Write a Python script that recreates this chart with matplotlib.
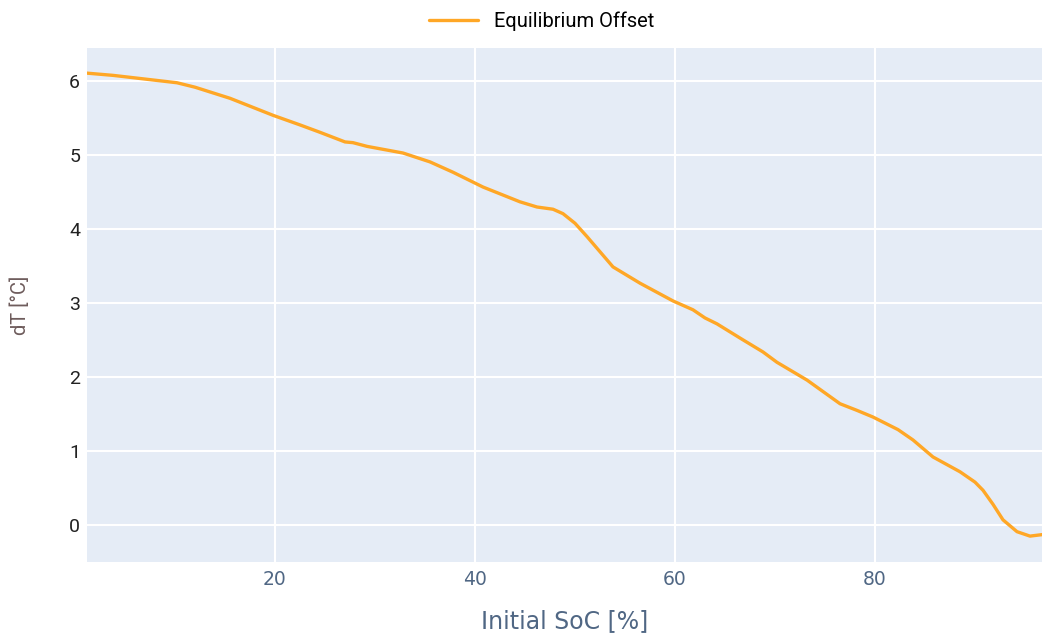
import matplotlib
matplotlib.use('Agg')
import matplotlib.pyplot as plt

# initial state of charge [%] vs equilibrium temperature offset [degC]
soc = [1.2, 3.8, 7.0, 10.2, 12.0, 15.5, 19.8, 22.5, 24.5, 27.0, 27.8, 29.2, 32.8,
       35.5, 37.8, 40.8, 44.5, 46.2, 47.8, 48.8, 50.0, 51.2, 53.8, 56.5, 59.8,
       61.8, 63.0, 64.2, 66.6, 68.8, 70.2, 73.2, 76.5, 78.2, 79.8, 82.3, 83.8,
       85.8, 88.5, 90.0, 90.8, 91.8, 92.8, 94.2, 95.5, 96.7]
d_temp = [6.11, 6.08, 6.03, 5.98, 5.92, 5.77, 5.54, 5.41, 5.31, 5.18, 5.17, 5.12, 5.03,
          4.91, 4.77, 4.57, 4.37, 4.30, 4.27, 4.21, 4.08, 3.90, 3.49, 3.27, 3.03,
          2.91, 2.80, 2.72, 2.52, 2.34, 2.20, 1.96, 1.64, 1.55, 1.46, 1.29, 1.15,
          0.92, 0.72, 0.58, 0.47, 0.28, 0.07, -0.09, -0.15, -0.13]

fig = plt.figure(figsize=(10.42, 6.34), dpi=100)
ax = fig.add_axes([87 / 1042, 72 / 634, 955 / 1042, 514 / 634])
ax.set_facecolor('#E5ECF6')

line, = ax.plot(soc, d_temp, color='#FFA726', linewidth=2.4, label='Equilibrium Offset',
                solid_capstyle='round', solid_joinstyle='round')

ax.set_xlim(1.2, 96.7)
ax.set_ylim(-0.5, 6.45)
ax.set_xticks([20, 40, 60, 80])
ax.set_yticks([0, 1, 2, 3, 4, 5, 6])
ax.grid(True, color='white', linewidth=1.5)
ax.set_axisbelow(True)
for s in ax.spines.values():
    s.set_visible(False)
ax.tick_params(length=0)
ax.tick_params(axis='x', pad=6, labelsize=13.5, labelcolor='#506784')
ax.tick_params(axis='y', pad=5, labelsize=14, labelcolor='#222222')
for lab in ax.get_yticklabels():
    lab.set_family('Roboto')

ax.set_xlabel('Initial SoC [%]', fontsize=17, color='#506784', labelpad=14)
ax.set_ylabel('dT [°C]', fontsize=14.5, color='#6e5c5c', family='Roboto', labelpad=28)

fig.legend(handles=[line], loc='upper center', bbox_to_anchor=(0.52, 1.01),
           frameon=False, prop={'family': 'Roboto', 'size': 14.5}, handlelength=2.4,
           handletextpad=0.8)

fig.savefig('out.png', dpi=100)
